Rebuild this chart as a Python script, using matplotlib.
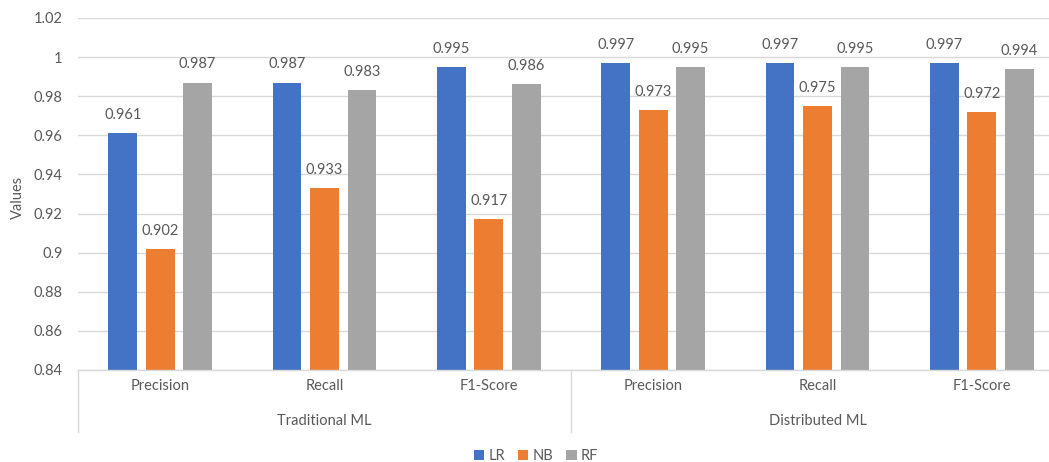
import matplotlib
matplotlib.use("Agg")
import matplotlib.pyplot as plt
import matplotlib.transforms as mtransforms
from matplotlib.patches import Patch
import numpy as np

# ---- data ----
metrics = ["Precision", "Recall", "F1-Score", "Precision", "Recall", "F1-Score"]
groups = ["Traditional ML", "Distributed ML"]
series_names = ["LR", "NB", "RF"]
lr_values = [0.961, 0.987, 0.995, 0.997, 0.997, 0.997]
nb_values = [0.902, 0.933, 0.917, 0.973, 0.975, 0.972]
rf_values = [0.987, 0.983, 0.986, 0.995, 0.995, 0.994]
y_ticks = [0.84, 0.86, 0.88, 0.9, 0.92, 0.94, 0.96, 0.98, 1.0, 1.02]
y_tick_labels = ["0.84", "0.86", "0.88", "0.9", "0.92", "0.94", "0.96", "0.98", "1", "1.02"]

colors = ["#4472C4", "#ED7D31", "#A5A5A5"]
text_color = "#595959"
grid_color = "#D9D9D9"

plt.rcParams["font.family"] = ["Lato", "DejaVu Sans"]

W, H = 1049, 462
fig = plt.figure(figsize=(W / 100, H / 100), dpi=100)
left_px, right_px, top_px, bottom_px = 78, 1064, 18, 370
ax = fig.add_axes([left_px / W, 1 - bottom_px / H, (right_px - left_px) / W, (bottom_px - top_px) / H])
ax_h_px = bottom_px - top_px
ax_w_px = right_px - left_px

n = len(metrics)
x = np.arange(n) + 0.5
step = 0.228
width = 0.176
all_series = [lr_values, nb_values, rf_values]
for j, (vals, name, c) in enumerate(zip(all_series, series_names, colors)):
    xs = x + (j - 1) * step
    ax.bar(xs, np.array(vals) - 0.84, bottom=0.84, width=width, color=c, label=name, zorder=3)
    for xi, v in zip(xs, vals):
        ax.annotate(f"{v:.3f}", (xi, v), xytext=(0, 8), textcoords="offset points",
                    ha="center", va="bottom", fontsize=10.5, color=text_color, zorder=4)

ax.set_xlim(0, n)
ax.set_ylim(0.84, 1.02)
ax.set_yticks(y_ticks)
ax.set_yticklabels(y_tick_labels)
ax.tick_params(axis="y", length=0, pad=11, labelsize=10.5, labelcolor=text_color)
ax.set_xticks([])
ax.grid(axis="y", color=grid_color, linewidth=1.0, zorder=0)
for s in ["top", "right", "left"]:
    ax.spines[s].set_visible(False)
ax.spines["bottom"].set_color(grid_color)
ax.spines["bottom"].set_linewidth(1.0)
ax.spines["bottom"].set_zorder(5)

ax.set_ylabel("Values", fontsize=10.5, color=text_color)
ax.yaxis.label.set_verticalalignment("center")
ax.yaxis.set_label_coords(-(78 - 18) / ax_w_px, (370 - 197) / ax_h_px)

trans = mtransforms.blended_transform_factory(ax.transData, ax.transAxes)
# category labels
for xi, m in zip(x, metrics):
    ax.text(xi, -16 / ax_h_px, m, transform=trans, ha="center", va="center",
            fontsize=10.5, color=text_color)
# group labels
for gi, g in enumerate(groups):
    ax.text(gi * 3 + 1.5, -51 / ax_h_px, g, transform=trans, ha="center", va="center",
            fontsize=10.5, color=text_color)
# dividers
for xd in [0, 3, 6]:
    ax.plot([xd, xd], [0, -62 / ax_h_px], transform=trans, color=grid_color,
            linewidth=1.0, clip_on=False)

handles = [Patch(facecolor=c, edgecolor="none", label=nm) for c, nm in zip(colors, series_names)]
fig.legend(handles=handles, loc="center", bbox_to_anchor=(536 / W, 1 - 456 / H), ncol=3,
           frameon=False, fontsize=10.5, labelcolor=text_color, handlelength=0.7,
           handleheight=0.7, handletextpad=0.3, columnspacing=0.9)

fig.savefig("out.png", dpi=100)
